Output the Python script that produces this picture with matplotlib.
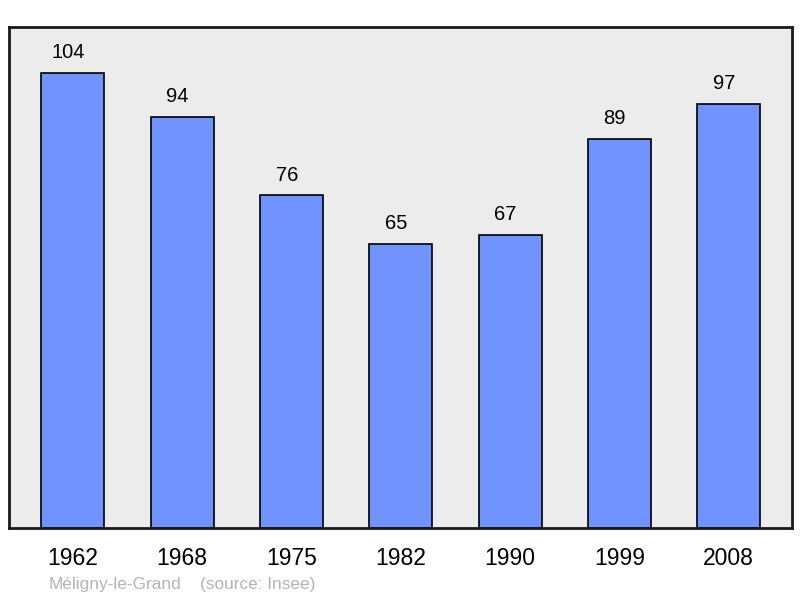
import matplotlib.pyplot as plt

years = ["1962", "1968", "1975", "1982", "1990", "1999", "2008"]
population = [104, 94, 76, 65, 67, 89, 97]

plt.rcParams['font.family'] = ['Liberation Sans', 'DejaVu Sans']

fig = plt.figure(figsize=(8, 5.98), dpi=100)
ax = fig.add_axes([9/800, 70/598, 783/800, 501/598])
ax.set_facecolor('#ececec')

x = list(range(len(years)))
ax.bar(x, population, width=0.576, color='#7093ff', edgecolor='black', linewidth=1.2)

# value labels sit a little left of the bar centre, like the original
for xi, v in zip(x, population):
    ax.text(xi - 0.042, v + 2.4, str(v), ha='center', va='bottom', fontsize=14.5)

ax.set_xlim(-0.585, 6.58)
ax.set_ylim(0, 114.5)
ax.set_yticks([])
ax.set_xticks(x)
ax.set_xticklabels(years, fontsize=16.5)
ax.tick_params(axis='x', length=0, pad=14)
for s in ax.spines.values():
    s.set_linewidth(2)
    s.set_color('#1a1a1a')

fig.text(49/800, 1 - 584/598, "Méligny-le-Grand", color='#b4b4b4', fontsize=12.4, va='center')
fig.text(200/800, 1 - 584/598, "(source: Insee)", color='#b4b4b4', fontsize=12.4, va='center')

fig.savefig('out.png', dpi=100)
